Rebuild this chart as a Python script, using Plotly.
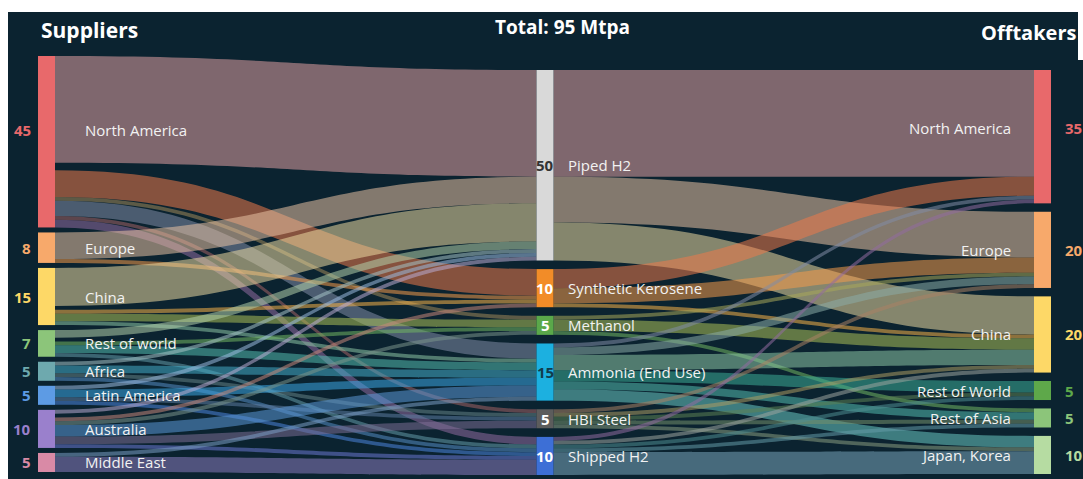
import plotly.graph_objects as go

W, H = 1083, 479
BG = "#0b2330"
FONT = "Open Sans"

# ---- data -------------------------------------------------------------
suppliers = ["North America", "Europe", "China", "Rest of world", "Africa",
             "Latin America", "Australia", "Middle East"]
supplier_values = [45, 8, 15, 7, 5, 5, 10, 5]
supplier_colors = ["#e8696b", "#f7a96b", "#fdd867", "#8cc57a", "#6ea9ae",
                   "#5d9be4", "#9a80cc", "#d98aa6"]

carriers = ["Piped H2", "Synthetic Kerosene", "Methanol", "Ammonia (End Use)",
            "HBI Steel", "Shipped H2"]
carrier_values = [50, 10, 5, 15, 5, 10]
carrier_colors = ["#d9d9d9", "#f28c28", "#5aa84a", "#1cb0e0", "#5c5c5c", "#3d6fd6"]
carrier_value_colors = ["#333333", "#ffffff", "#ffffff", "#123c4c", "#ffffff", "#ffffff"]

offtakers = ["North America", "Europe", "China", "Rest of World", "Rest of Asia",
             "Japan, Korea"]
offtaker_values = [35, 20, 20, 5, 5, 10]
offtaker_colors = ["#e8696b", "#f7a96b", "#fdd867", "#5ea84a", "#8cc57a", "#b6dca2"]

# supplier -> carrier (rows: suppliers, columns: carriers)
supply_flows = [
    [28, 7, 1, 4, 1, 2],
    [7, 1, 0, 0, 0, 0],
    [10, 1, 2, 1, 0, 0],
    [2, 0, 1, 2, 0, 1],
    [1, 0, 0, 2, 1, 1],
    [1, 0, 0, 2, 1, 1],
    [1, 1, 1, 3, 2, 1],
    [0, 0, 0, 1, 0, 4],
]
# carrier -> offtaker (rows: carriers, columns: offtakers)
offtake_flows = [
    [28, 12, 10, 0, 0, 0],
    [5, 4, 1, 0, 0, 0],
    [0, 1, 3, 0, 1, 0],
    [1, 2, 4, 3, 2, 3],
    [0, 1, 1, 1, 1, 1],
    [1, 0, 1, 1, 1, 6],
]
total_label = "Total: 95 Mtpa"

# ---- layout geometry ---------------------------------------------------
PAD = 14
THICK = 17
X_LEFT, X_MID, X_RIGHT = 46.5, 545, 1042.5
LINK_ALPHA = 0.55

# supply that does not reach a carrier goes to an invisible sink node
losses = [v - sum(r) for v, r in zip(supplier_values, supply_flows)]

cols = [supplier_values, carrier_values + [sum(losses)], offtaker_values]
KY = min((H - (len(c) - 1) * PAD) / sum(c) for c in cols)


def stack(values, top, bottom):
    total = sum(values) * KY
    gap = (bottom - top - total) / (len(values) - 1)
    spans, y = [], top
    for v in values:
        spans.append((y, y + v * KY))
        y += v * KY + gap
    return spans


left_spans = stack(supplier_values, 56, 472)
mid_spans = stack(carrier_values, 70, 475)
right_spans = stack(offtaker_values, 70, 474)
sink_center = (mid_spans[0][1] + mid_spans[1][0]) / 2

centers = lambda spans: [(a + b) / 2 for a, b in spans]
lc, mc, rc = centers(left_spans), centers(mid_spans), centers(right_spans)

n_s, n_c, n_o = len(suppliers), len(carriers), len(offtakers)
SINK = n_s + n_c + n_o

node_x = [X_LEFT / W] * n_s + [X_MID / W] * n_c + [X_RIGHT / W] * n_o + [X_MID / W]
node_y = [y / H for y in lc + mc + rc] + [sink_center / H]
node_colors = supplier_colors + carrier_colors + offtaker_colors + ["rgba(0,0,0,0)"]


def hex_rgb(h):
    h = h.lstrip("#")
    return tuple(int(h[i:i + 2], 16) for i in (0, 2, 4))


def band(c1, c2, alpha=LINK_ALPHA):
    a, b = hex_rgb(c1), hex_rgb(c2)
    m = [round((x + y) / 2) for x, y in zip(a, b)]
    return f"rgba({m[0]},{m[1]},{m[2]},{alpha})"


src, tgt, val, lcol = [], [], [], []
for i, row in enumerate(supply_flows):
    for j, v in enumerate(row):
        if v:
            src.append(i); tgt.append(n_s + j); val.append(v)
            lcol.append(band(supplier_colors[i], carrier_colors[j]))
    if losses[i]:
        src.append(i); tgt.append(SINK); val.append(losses[i])
        lcol.append("rgba(0,0,0,0)")
for i, row in enumerate(offtake_flows):
    for j, v in enumerate(row):
        if v:
            src.append(n_s + i); tgt.append(n_s + n_c + j); val.append(v)
            lcol.append(band(carrier_colors[i], offtaker_colors[j]))

fig = go.Figure(go.Sankey(
    arrangement="fixed",
    domain=dict(x=[0, 1], y=[0, 1]),
    hoverinfo="none",
    node=dict(
        label=[""] * (SINK + 1),
        x=node_x, y=node_y,
        color=node_colors,
        pad=PAD, thickness=THICK,
        line=dict(width=0),
        hoverinfo="none",
    ),
    link=dict(source=src, target=tgt, value=val, color=lcol, hoverinfo="none"),
))

ann = []


def txt(x, y, s, color="#f2f2f2", size=15, anchor="left", bold=False):
    ann.append(dict(
        x=x / W, y=1 - y / H, xref="paper", yref="paper", showarrow=False,
        text=f"<b>{s}</b>" if bold else s, xanchor=anchor, yanchor="middle",
        font=dict(family=FONT, size=size, color=color),
    ))


# the large North America nodes carry their labels in the upper part
left_label_y = [y - (12 if i == 0 else 0) for i, y in enumerate(lc)]
right_label_y = [y - (9 if i == 0 else 0) for i, y in enumerate(rc)]

for name, v, c, y in zip(suppliers, supplier_values, supplier_colors, left_label_y):
    txt(83, y, name)
    txt(33, y, str(v), color=c, anchor="right", bold=True)
for name, v, c, y in zip(carriers, carrier_values, carrier_value_colors, mc):
    txt(566, y, name)
    txt(X_MID, y, str(v), color=c, anchor="center", bold=True)
for name, v, c, y in zip(offtakers, offtaker_values, offtaker_colors, right_label_y):
    txt(1013, y, name, anchor="right")
    txt(1063, y, str(v), color=c, anchor="left", bold=True)

txt(39, 30, "Suppliers", color="#ffffff", size=21, bold=True)
txt(562, 27, total_label, color="#ffffff", size=19, anchor="center", bold=True)
txt(1078, 32, "Offtakers", color="#ffffff", size=20, anchor="right", bold=True)

shapes = [
    dict(type="rect", xref="paper", yref="paper", x0=0, x1=8 / W, y0=0, y1=1,
         fillcolor="white", line=dict(width=0), layer="above"),
    dict(type="rect", xref="paper", yref="paper", x0=0, x1=1, y0=1 - 12 / H, y1=1,
         fillcolor="white", line=dict(width=0), layer="above"),
    dict(type="rect", xref="paper", yref="paper", x0=1078 / W, x1=1, y0=1 - 60 / H, y1=1,
         fillcolor="white", line=dict(width=0), layer="above"),
]

fig.update_layout(
    width=W, height=H,
    margin=dict(l=0, r=0, t=0, b=0),
    paper_bgcolor=BG, plot_bgcolor=BG,
    annotations=ann, shapes=shapes,
    font=dict(family=FONT, color="#f2f2f2"),
)

fig.write_html("out.html")
